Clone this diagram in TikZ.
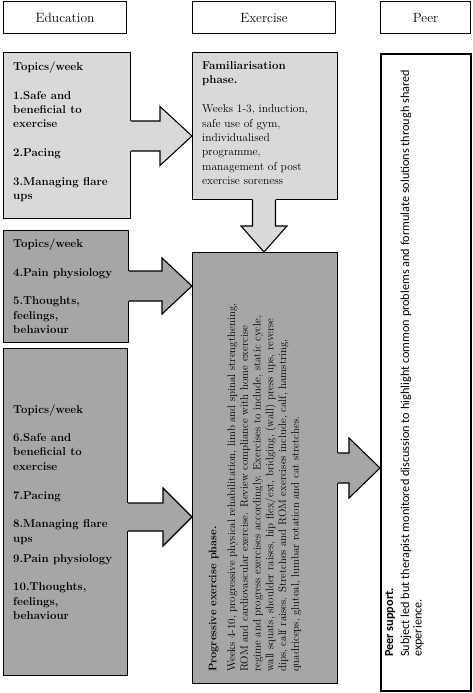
\documentclass[tikz,border=0pt]{standalone}
\usepackage{fontspec}
\newfontfamily\peerfont{Carlito}
\usetikzlibrary{calc}
\definecolor{lightg}{HTML}{D9D9D9}
\definecolor{darkg}{HTML}{A6A6A6}
\tikzset{
  box/.style={draw=black, line width=1.1bp, inner sep=0, anchor=north west},
  headbox/.style={box, fill=white, font=\fontsize{13.5}{16}\selectfont},
  txt/.style={inner sep=0, anchor=north west, align=left, font=\fontsize{11.5}{14.4}\selectfont},
  arr/.style={draw=black, line width=1.1bp, line join=miter},
}
% right-pointing block arrow: #1 base anchor, #2 tip, #3 colour, #4 shaft half, #5 head half, #6 head length
\newcommand\blkarrowR[6]{%
  \path[fill=#3] let \p1=(#1), \p2=(#2) in
    (\x1-0.9pt,\y2+#4) -- (\x2-#6,\y2+#4) -- (\x2-#6,\y2+#5) -- (\x2,\y2) --
    (\x2-#6,\y2-#5) -- (\x2-#6,\y2-#4) -- (\x1-0.9pt,\y2-#4) -- cycle;
  \draw[arr] let \p1=(#1), \p2=(#2) in
    (\x1,\y2+#4) -- (\x2-#6,\y2+#4) -- (\x2-#6,\y2+#5) -- (\x2,\y2) --
    (\x2-#6,\y2-#5) -- (\x2-#6,\y2-#4) -- (\x1,\y2-#4);
}
% down-pointing block arrow
\newcommand\blkarrowD[6]{%
  \path[fill=#3] let \p1=(#1), \p2=(#2) in
    (\x2-#4,\y1+0.9pt) -- (\x2-#4,\y2+#6) -- (\x2-#5,\y2+#6) -- (\x2,\y2) --
    (\x2+#5,\y2+#6) -- (\x2+#4,\y2+#6) -- (\x2+#4,\y1+0.9pt) -- cycle;
  \draw[arr] let \p1=(#1), \p2=(#2) in
    (\x2-#4,\y1) -- (\x2-#4,\y2+#6) -- (\x2-#5,\y2+#6) -- (\x2,\y2) --
    (\x2+#5,\y2+#6) -- (\x2+#4,\y2+#6) -- (\x2+#4,\y1);
}
\begin{document}
\begin{tikzpicture}[x=1bp,y=-1bp]
\useasboundingbox (0,0) rectangle (473,693);
% headers
\node[headbox, minimum width=123bp, minimum height=32bp] (hEdu) at (3,1) {Education};
\node[headbox, minimum width=143bp, minimum height=32bp] (hEx) at (192,1) {Exercise};
\node[headbox, minimum width=90bp, minimum height=32bp] (hPeer) at (380,1) {Peer};
% boxes
\node[box, fill=lightg, minimum width=127bp, minimum height=166bp] (b1) at (3,52) {};
\node[box, fill=lightg, minimum width=145bp, minimum height=147bp] (fam) at (192,52) {};
\node[box, fill=darkg, minimum width=125bp, minimum height=112bp] (b2) at (3,230) {};
\node[box, fill=darkg, minimum width=124bp, minimum height=327bp] (b3) at (3,348) {};
\node[box, fill=darkg, minimum width=145bp, minimum height=431bp] (prog) at (192,252) {};
\node[box, fill=white, line width=1.7bp, minimum width=90bp, minimum height=637bp] (peer) at (380,53) {};
% arrow tips
\coordinate (t1) at (fam.west |- 0,136);
\coordinate (t2) at (prog.west |- 0,286);
\coordinate (t3) at (prog.west |- 0,517);
\coordinate (t4) at (peer.west |- 0,468);
\coordinate (t0) at (prog.north -| 264,0);
% arrows
\blkarrowR{b1.east}{t1}{lightg}{15bp}{29.5bp}{32bp}
\blkarrowR{b2.east}{t2}{darkg}{15bp}{28bp}{30bp}
\blkarrowR{b3.east}{t3}{darkg}{14bp}{29bp}{29bp}
\blkarrowR{prog.east}{t4}{darkg}{15bp}{30bp}{31bp}
\blkarrowD{fam.south}{t0}{lightg}{11.5bp}{23bp}{26bp}
% texts
\node[txt] (tb1) at (13,61.5) {\bfseries Topics/week\\[14.4bp]\bfseries 1.Safe and\\\bfseries beneficial to\\\bfseries exercise\\[14.4bp]\bfseries 2.Pacing\\[14.4bp]\bfseries 3.Managing flare\\\bfseries ups};
\node[txt] (tfam) at (202,61.5) {\bfseries Familiarisation\\\bfseries phase.\\[14.4bp]Weeks 1-3, induction,\\safe use of gym,\\individualised\\programme,\\management of post\\exercise soreness};
\node[txt] (tb2) at (13,238.5) {\bfseries Topics/week\\[14.4bp]\bfseries 4.Pain physiology\\[14.4bp]\bfseries 5.Thoughts,\\\bfseries feelings,\\\bfseries behaviour};
\node[txt] (tb3) at (13,404.5) {\bfseries Topics/week\\[14bp]\bfseries 6.Safe and\\\bfseries beneficial to\\\bfseries exercise\\[14.4bp]\bfseries 7.Pacing\\[14.4bp]\bfseries 8.Managing flare\\\bfseries ups\\[5.6bp]\bfseries 9.Pain physiology\\[14.4bp]\bfseries 10.Thoughts,\\\bfseries feelings,\\\bfseries behaviour};
\node[txt, rotate=90, font=\fontsize{11}{12.8}\selectfont] (tprog) at (208.5,672) {\bfseries Progressive exercise phase.\\[6bp]Weeks 4-10, progressive physical rehabilitation, limb and spinal strengthening,\\ROM and cardiovascular exercise. Review compliance with home exercise\\regime and progress exercises accordingly. Exercises to include, static cycle,\\wall squats, shoulder raises, hip flex/ext, bridging, (wall) press ups, reverse\\dips, calf raises. Stretches and ROM exercises include, calf, hamstring,\\quadriceps, gluteal, lumbar rotation and cat stretches.};
\node[txt, rotate=90, font=\fontsize{12.3}{12.5}\peerfont] (tpeer) at (385,657) {\bfseries Peer support.\\[3.5bp]Subject led but therapist monitored discussion to highlight common problems and formulate solutions through shared\\experience.};
\end{tikzpicture}
\end{document}
